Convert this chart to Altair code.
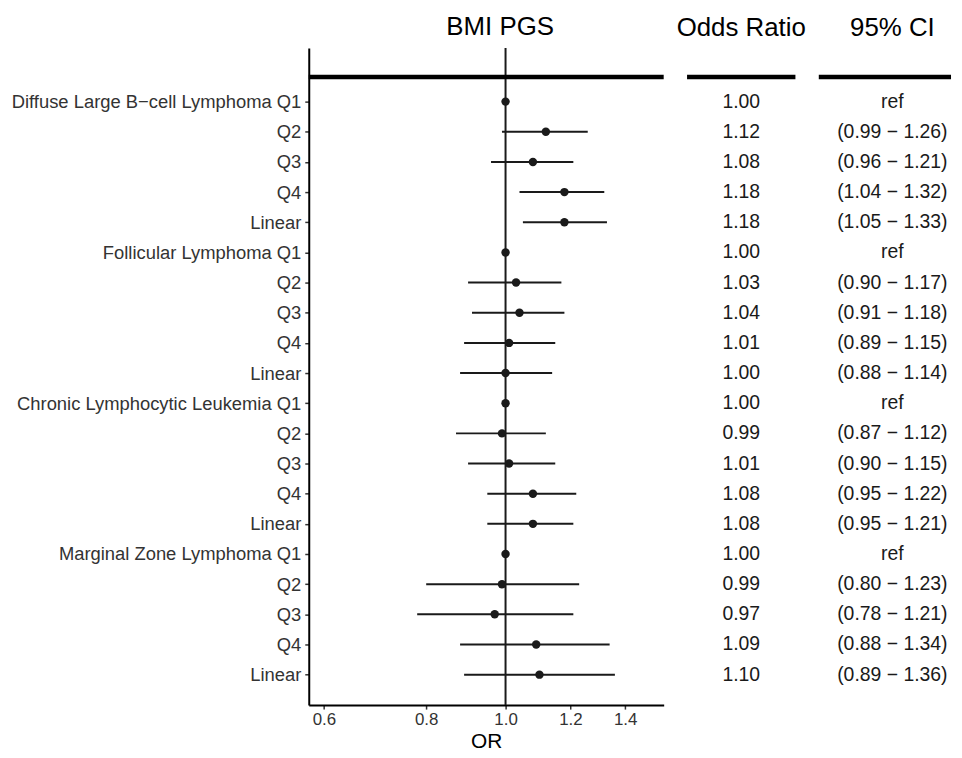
import json
import altair as alt
import pandas as pd

FONT = "Liberation Sans"

groups = ["Diffuse Large B−cell Lymphoma", "Follicular Lymphoma",
          "Chronic Lymphocytic Leukemia", "Marginal Zone Lymphoma"]
levels = ["Q1", "Q2", "Q3", "Q4", "Linear"]
odds = [1.00, 1.12, 1.08, 1.18, 1.18,
        1.00, 1.03, 1.04, 1.01, 1.00,
        1.00, 0.99, 1.01, 1.08, 1.08,
        1.00, 0.99, 0.97, 1.09, 1.10]
lower = [None, 0.99, 0.96, 1.04, 1.05,
         None, 0.90, 0.91, 0.89, 0.88,
         None, 0.87, 0.90, 0.95, 0.95,
         None, 0.80, 0.78, 0.88, 0.89]
upper = [None, 1.26, 1.21, 1.32, 1.33,
         None, 1.17, 1.18, 1.15, 1.14,
         None, 1.12, 1.15, 1.22, 1.21,
         None, 1.23, 1.21, 1.34, 1.36]
x_ticks = [0.6, 0.8, 1.0, 1.2, 1.4]

labels = []
for g in groups:
    for lv in levels:
        labels.append(f"{g} Q1" if lv == "Q1" else lv)

rows = list(range(1, len(labels) + 1))
or_txt = [f"{v:.2f}" for v in odds]
ci_txt = ["ref" if lo is None else f"({lo:.2f} − {hi:.2f})" for lo, hi in zip(lower, upper)]

df = pd.DataFrame({"row": rows, "label": labels, "or": odds, "lo": lower, "hi": upper,
                   "or_txt": or_txt, "ci_txt": ci_txt})

HEADER_Y = 0.186
yscale = alt.Scale(domain=[-0.78, 21.01], reverse=True, nice=False, zero=False)
xscale = alt.Scale(type="log", domain=[0.575, 1.56], nice=False, zero=False)
label_expr = json.dumps(labels, ensure_ascii=False) + "[datum.value - 1]"

H = 661
TXT = "#1a1a1a"


def title(text, dx=0):
    return alt.Title(text, fontSize=26, fontWeight="normal", font=FONT, color="black",
                     offset=7, dx=dx)


yaxis = alt.Axis(values=rows, labelExpr=label_expr, title=None, labelFontSize=18.5,
                 labelFont=FONT, labelColor="#333333", tickSize=4, tickWidth=1.5,
                 tickColor="#333333", labelPadding=4, grid=False, domainWidth=2,
                 domainColor="black", labelLimit=500, labelOverlap=False,
                 labelSeparation=0, labelBound=False)
xaxis = alt.Axis(values=x_ticks, format=".1f", title="OR", titleFontSize=21,
                 titleFont=FONT, titleFontWeight="normal", titleColor="black",
                 labelFontSize=17, labelFont=FONT, labelColor="#333333", tickSize=4,
                 tickWidth=1.5, tickColor="#333333", grid=False, domainWidth=2,
                 domainColor="black", titlePadding=4, labelOverlap=False)

one = pd.DataFrame({"v": [1.0], "h": [HEADER_Y]})

vline = alt.Chart(one).mark_rule(color=TXT, strokeWidth=2).encode(
    x=alt.X("v:Q", scale=xscale, axis=xaxis))
hline = alt.Chart(one).mark_rule(color="black", strokeWidth=4.5).encode(
    y=alt.Y("h:Q", scale=yscale, axis=yaxis))
ci = alt.Chart(df).transform_filter("isValid(datum.lo)").mark_rule(
    color=TXT, strokeWidth=2).encode(
    x=alt.X("lo:Q", scale=xscale, axis=xaxis), x2="hi:Q",
    y=alt.Y("row:Q", scale=yscale, axis=yaxis))
pts = alt.Chart(df).mark_circle(size=72, color=TXT, opacity=1).encode(
    x=alt.X("or:Q", scale=xscale, axis=xaxis), y=alt.Y("row:Q", scale=yscale, axis=yaxis))

p1 = alt.layer(vline, hline, ci, pts).properties(width=357, height=H, title=title("BMI PGS", dx=14))


def table(field, w, head, cx, dx=0):
    rule = alt.Chart(one).mark_rule(color="black", strokeWidth=4.5).encode(
        y=alt.Y("h:Q", scale=yscale, axis=None))
    txt = alt.Chart(df).mark_text(fontSize=19.5, font=FONT, color=TXT, align="center",
                                  baseline="middle").encode(
        x=alt.value(cx), y=alt.Y("row:Q", scale=yscale, axis=None), text=f"{field}:N")
    return alt.layer(rule, txt).properties(width=w, height=H, title=title(head, dx=dx))


p2 = table("or_txt", 109, "Odds Ratio", 54.5)
p3 = table("ci_txt", 133, "95% CI", 74, dx=7.5)

chart = alt.hconcat(p1, p2, p3, spacing=23.5, bounds="flush").configure_view(
    stroke=None).properties(padding={"left": 2.5, "top": 4, "right": 0, "bottom": 0})

chart.save("out.html", embed_options={"renderer": "svg", "actions": False})
